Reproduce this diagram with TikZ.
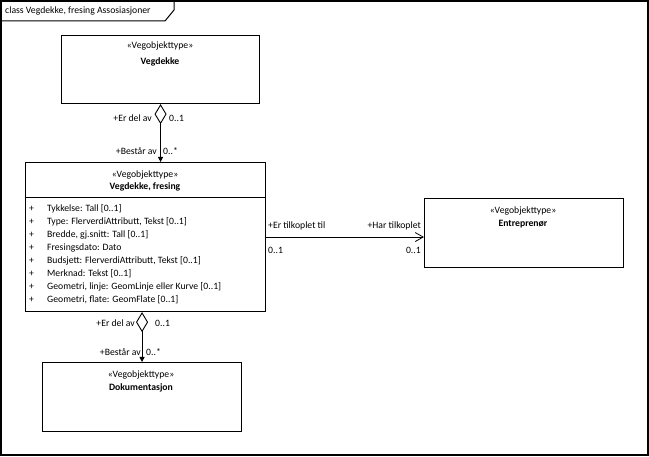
\documentclass[tikz,border=0pt]{standalone}
\usepackage{fontspec}
\setmainfont{Carlito}
\usetikzlibrary{arrows.meta}
\begin{document}
\begin{tikzpicture}[x=1pt,y=-1pt,
  classbox/.style={draw, line width=1.1pt, anchor=north west, inner sep=0pt},
  lbl/.style={inner sep=0pt, font=\fontsize{9.7}{11}\selectfont},
  bold/.style={lbl, font=\fontsize{9.7}{11}\selectfont\bfseries},
  assoc/.style={line width=0.9pt},
  aggr/.style={assoc, {Diamond[open, length=20pt, width=12pt, line width=0.9pt]}-{Triangle[length=5pt, width=5pt]}}
]
\useasboundingbox (0,0) rectangle (649,457);

% diagram frame with its name tab
\draw[line width=1.1pt] (1,1) rectangle (648,455);
\draw[line width=1pt] (1,21) -- (165,21) -- (174,10) -- (174,1);
\node[lbl, anchor=west] (title) at (5,11) {class Vegdekke, fresing Assosiasjoner};

% classes
\node[classbox, minimum width=198pt, minimum height=68pt] (vd) at (61,35) {};
\node[lbl] (vdst) at (160,46) {«Vegobjekttype»};
\node[bold] (vdnm) at (160,62) {Vegdekke};

\node[classbox, minimum width=240pt, minimum height=149pt] (fr) at (25,162) {};
\draw[line width=1pt] (fr.west |- 0,198) -- (fr.east |- 0,198);
\node[lbl] (frst) at (145,175) {«Vegobjekttype»};
\node[bold] (frnm) at (145,187) {Vegdekke, fresing};
\foreach \t [count=\i from 0] in {%
  {Tykkelse: Tall [0..1]},
  {Type: FlerverdiAttributt, Tekst [0..1]},
  {Bredde, gj.snitt: Tall [0..1]},
  {Fresingsdato: Dato},
  {Budsjett: FlerverdiAttributt, Tekst [0..1]},
  {Merknad: Tekst [0..1]},
  {Geometri, linje: GeomLinje eller Kurve [0..1]},
  {Geometri, flate: GeomFlate [0..1]}} {
  \node[lbl, anchor=west] (vis\i) at (29,209+13*\i) {+};
  \node[lbl, anchor=west] (att\i) at (47,209+13*\i) {\t};
}

\node[classbox, minimum width=199pt, minimum height=69pt] (ent) at (424,198) {};
\node[lbl] (entst) at (523,211) {«Vegobjekttype»};
\node[bold] (entnm) at (523,224) {Entreprenør};

\node[classbox, minimum width=199pt, minimum height=69pt] (dok) at (42,362) {};
\node[lbl] (dokst) at (141,375) {«Vegobjekttype»};
\node[bold] (doknm) at (141,388) {Dokumentasjon};

% aggregation Vegdekke -- Vegdekke, fresing
\draw[aggr] (vd.south) -- (vd.south |- fr.north);
\node[lbl, anchor=east] (a1) at (152,118) {+Er del av};
\node[lbl, anchor=west] (a2) at (169,118) {0..1};
\node[lbl, anchor=east] (a3) at (157,151) {+Består av};
\node[lbl, anchor=west] (a4) at (163,151) {0..*};

% aggregation Vegdekke, fresing -- Dokumentasjon
\draw[aggr] (dok.north |- fr.south) -- (dok.north);
\node[lbl, anchor=east] (b1) at (135,323) {+Er del av};
\node[lbl, anchor=west] (b2) at (155,323) {0..1};
\node[lbl, anchor=east] (b3) at (141,352) {+Består av};
\node[lbl, anchor=west] (b4) at (146,352) {0..*};

% association Vegdekke, fresing -- Entreprenør
\draw[assoc, -{Straight Barb[length=8pt, width=9pt, line width=0.8pt]}] (fr.east) -- (fr.east -| ent.west);
\node[lbl, anchor=west] (c1) at (268,226) {+Er tilkoplet til};
\node[lbl, anchor=west] (c2) at (268,250) {0..1};
\node[lbl, anchor=east] (c3) at (421,226) {+Har tilkoplet};
\node[lbl, anchor=east] (c4) at (421,250) {0..1};
\end{tikzpicture}
\end{document}
